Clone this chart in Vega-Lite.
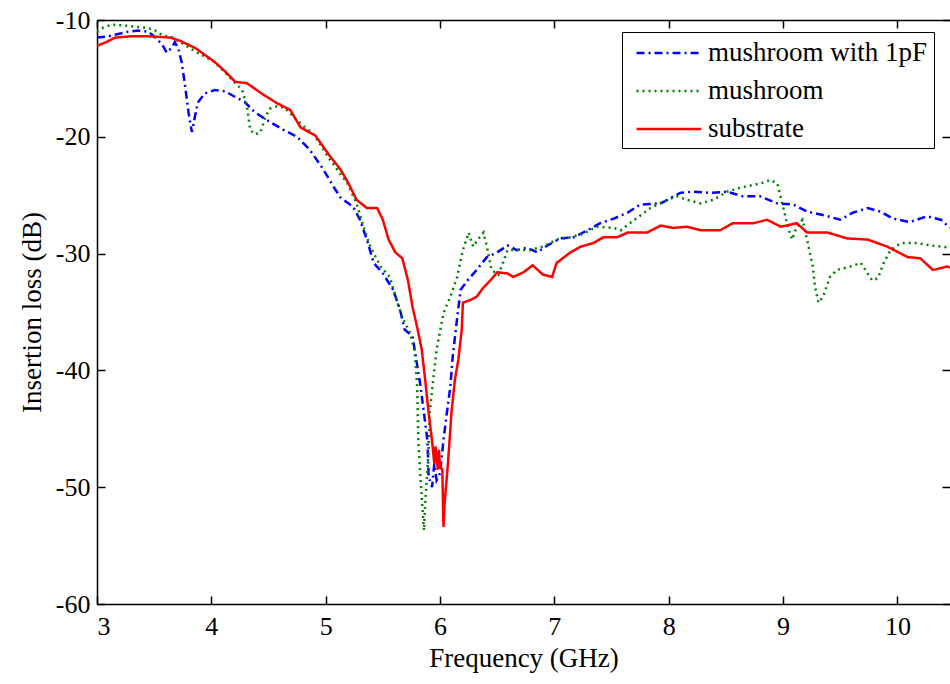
{
  "$schema": "https://vega.github.io/schema/vega-lite/v6.json",
  "autosize": "none",
  "width": 853,
  "height": 584,
  "padding": {"left": 97, "top": 20, "right": 0, "bottom": 80},
  "background": "white",
  "config": {
    "view": {"stroke": null},
    "font": "Liberation Serif",
    "axis": {
      "domainColor": "black", "domainWidth": 1.5, "tickColor": "black", "tickWidth": 1.5,
      "labelColor": "black", "labelFont": "Liberation Serif", "labelFontSize": 26,
      "titleFont": "Liberation Serif", "titleFontSize": 27, "titleFontWeight": "normal", "titleColor": "black",
      "grid": false, "tickSize": -8, "labelExpr": "'' + datum.value"
    }
  },
  "data": {"values": [
    {"s":"mushroom with 1pF","f":3.00,"v":-11.5},{"s":"mushroom with 1pF","f":3.10,"v":-11.4},{"s":"mushroom with 1pF","f":3.27,"v":-11.0},{"s":"mushroom with 1pF","f":3.36,"v":-10.9},{"s":"mushroom with 1pF","f":3.45,"v":-11.0},{"s":"mushroom with 1pF","f":3.51,"v":-11.5},{"s":"mushroom with 1pF","f":3.57,"v":-12.1},{"s":"mushroom with 1pF","f":3.61,"v":-12.8},{"s":"mushroom with 1pF","f":3.66,"v":-12.3},{"s":"mushroom with 1pF","f":3.68,"v":-11.9},{"s":"mushroom with 1pF","f":3.71,"v":-12.4},{"s":"mushroom with 1pF","f":3.74,"v":-13.6},{"s":"mushroom with 1pF","f":3.77,"v":-15.6},{"s":"mushroom with 1pF","f":3.80,"v":-17.9},{"s":"mushroom with 1pF","f":3.83,"v":-19.6},{"s":"mushroom with 1pF","f":3.86,"v":-18.1},{"s":"mushroom with 1pF","f":3.88,"v":-17.1},{"s":"mushroom with 1pF","f":3.94,"v":-16.3},{"s":"mushroom with 1pF","f":4.03,"v":-16.0},{"s":"mushroom with 1pF","f":4.12,"v":-16.1},{"s":"mushroom with 1pF","f":4.21,"v":-16.6},{"s":"mushroom with 1pF","f":4.29,"v":-17.0},{"s":"mushroom with 1pF","f":4.38,"v":-17.9},{"s":"mushroom with 1pF","f":4.49,"v":-18.6},{"s":"mushroom with 1pF","f":4.63,"v":-19.4},{"s":"mushroom with 1pF","f":4.75,"v":-20.0},{"s":"mushroom with 1pF","f":4.86,"v":-21.1},{"s":"mushroom with 1pF","f":4.98,"v":-22.8},{"s":"mushroom with 1pF","f":5.07,"v":-24.3},{"s":"mushroom with 1pF","f":5.13,"v":-25.2},{"s":"mushroom with 1pF","f":5.24,"v":-26.0},{"s":"mushroom with 1pF","f":5.30,"v":-27.1},{"s":"mushroom with 1pF","f":5.36,"v":-28.8},{"s":"mushroom with 1pF","f":5.42,"v":-30.8},{"s":"mushroom with 1pF","f":5.50,"v":-31.7},{"s":"mushroom with 1pF","f":5.59,"v":-33.1},{"s":"mushroom with 1pF","f":5.65,"v":-34.8},{"s":"mushroom with 1pF","f":5.69,"v":-36.5},{"s":"mushroom with 1pF","f":5.76,"v":-37.1},{"s":"mushroom with 1pF","f":5.83,"v":-41.4},{"s":"mushroom with 1pF","f":5.89,"v":-46.0},{"s":"mushroom with 1pF","f":5.90,"v":-49.1},{"s":"mushroom with 1pF","f":5.93,"v":-50.0},{"s":"mushroom with 1pF","f":5.95,"v":-48.0},{"s":"mushroom with 1pF","f":5.97,"v":-49.4},{"s":"mushroom with 1pF","f":6.00,"v":-48.8},{"s":"mushroom with 1pF","f":6.03,"v":-46.0},{"s":"mushroom with 1pF","f":6.06,"v":-43.6},{"s":"mushroom with 1pF","f":6.09,"v":-41.4},{"s":"mushroom with 1pF","f":6.11,"v":-38.9},{"s":"mushroom with 1pF","f":6.15,"v":-35.5},{"s":"mushroom with 1pF","f":6.18,"v":-33.1},{"s":"mushroom with 1pF","f":6.24,"v":-32.3},{"s":"mushroom with 1pF","f":6.32,"v":-31.4},{"s":"mushroom with 1pF","f":6.41,"v":-30.3},{"s":"mushroom with 1pF","f":6.50,"v":-29.9},{"s":"mushroom with 1pF","f":6.59,"v":-29.3},{"s":"mushroom with 1pF","f":6.67,"v":-29.7},{"s":"mushroom with 1pF","f":6.76,"v":-29.5},{"s":"mushroom with 1pF","f":6.85,"v":-29.9},{"s":"mushroom with 1pF","f":6.94,"v":-29.3},{"s":"mushroom with 1pF","f":7.05,"v":-28.7},{"s":"mushroom with 1pF","f":7.17,"v":-28.6},{"s":"mushroom with 1pF","f":7.29,"v":-28.0},{"s":"mushroom with 1pF","f":7.40,"v":-27.4},{"s":"mushroom with 1pF","f":7.52,"v":-27.0},{"s":"mushroom with 1pF","f":7.64,"v":-26.5},{"s":"mushroom with 1pF","f":7.75,"v":-25.8},{"s":"mushroom with 1pF","f":7.93,"v":-25.7},{"s":"mushroom with 1pF","f":8.10,"v":-24.8},{"s":"mushroom with 1pF","f":8.21,"v":-24.7},{"s":"mushroom with 1pF","f":8.36,"v":-24.8},{"s":"mushroom with 1pF","f":8.51,"v":-24.7},{"s":"mushroom with 1pF","f":8.65,"v":-25.1},{"s":"mushroom with 1pF","f":8.80,"v":-25.1},{"s":"mushroom with 1pF","f":8.95,"v":-25.7},{"s":"mushroom with 1pF","f":9.09,"v":-25.8},{"s":"mushroom with 1pF","f":9.21,"v":-26.4},{"s":"mushroom with 1pF","f":9.39,"v":-26.8},{"s":"mushroom with 1pF","f":9.50,"v":-27.1},{"s":"mushroom with 1pF","f":9.61,"v":-26.5},{"s":"mushroom with 1pF","f":9.74,"v":-26.1},{"s":"mushroom with 1pF","f":9.85,"v":-26.4},{"s":"mushroom with 1pF","f":9.96,"v":-27.0},{"s":"mushroom with 1pF","f":10.11,"v":-27.3},{"s":"mushroom with 1pF","f":10.26,"v":-26.8},{"s":"mushroom with 1pF","f":10.38,"v":-27.1},{"s":"mushroom with 1pF","f":10.46,"v":-27.8},
    {"s":"mushroom","f":3.00,"v":-11.0},{"s":"mushroom","f":3.04,"v":-10.7},{"s":"mushroom","f":3.13,"v":-10.4},{"s":"mushroom","f":3.27,"v":-10.5},{"s":"mushroom","f":3.36,"v":-10.6},{"s":"mushroom","f":3.45,"v":-10.7},{"s":"mushroom","f":3.51,"v":-10.9},{"s":"mushroom","f":3.57,"v":-11.3},{"s":"mushroom","f":3.66,"v":-11.5},{"s":"mushroom","f":3.73,"v":-11.9},{"s":"mushroom","f":3.86,"v":-12.7},{"s":"mushroom","f":4.03,"v":-13.6},{"s":"mushroom","f":4.19,"v":-15.2},{"s":"mushroom","f":4.27,"v":-16.0},{"s":"mushroom","f":4.31,"v":-17.3},{"s":"mushroom","f":4.34,"v":-19.4},{"s":"mushroom","f":4.38,"v":-19.8},{"s":"mushroom","f":4.43,"v":-19.6},{"s":"mushroom","f":4.47,"v":-18.4},{"s":"mushroom","f":4.51,"v":-17.6},{"s":"mushroom","f":4.57,"v":-17.4},{"s":"mushroom","f":4.64,"v":-17.5},{"s":"mushroom","f":4.73,"v":-18.4},{"s":"mushroom","f":4.82,"v":-19.2},{"s":"mushroom","f":4.89,"v":-19.7},{"s":"mushroom","f":5.04,"v":-22.0},{"s":"mushroom","f":5.19,"v":-24.0},{"s":"mushroom","f":5.27,"v":-25.7},{"s":"mushroom","f":5.33,"v":-27.7},{"s":"mushroom","f":5.39,"v":-29.4},{"s":"mushroom","f":5.48,"v":-31.1},{"s":"mushroom","f":5.56,"v":-32.0},{"s":"mushroom","f":5.62,"v":-34.0},{"s":"mushroom","f":5.68,"v":-35.7},{"s":"mushroom","f":5.74,"v":-36.8},{"s":"mushroom","f":5.78,"v":-38.5},{"s":"mushroom","f":5.80,"v":-41.4},{"s":"mushroom","f":5.81,"v":-46.0},{"s":"mushroom","f":5.83,"v":-49.4},{"s":"mushroom","f":5.86,"v":-53.7},{"s":"mushroom","f":5.87,"v":-51.4},{"s":"mushroom","f":5.89,"v":-48.5},{"s":"mushroom","f":5.90,"v":-46.6},{"s":"mushroom","f":5.91,"v":-43.6},{"s":"mushroom","f":5.94,"v":-40.8},{"s":"mushroom","f":5.97,"v":-38.2},{"s":"mushroom","f":6.03,"v":-35.1},{"s":"mushroom","f":6.09,"v":-33.7},{"s":"mushroom","f":6.15,"v":-32.0},{"s":"mushroom","f":6.20,"v":-29.7},{"s":"mushroom","f":6.25,"v":-28.2},{"s":"mushroom","f":6.29,"v":-29.4},{"s":"mushroom","f":6.33,"v":-28.8},{"s":"mushroom","f":6.38,"v":-28.2},{"s":"mushroom","f":6.41,"v":-29.4},{"s":"mushroom","f":6.45,"v":-31.4},{"s":"mushroom","f":6.51,"v":-31.8},{"s":"mushroom","f":6.55,"v":-30.8},{"s":"mushroom","f":6.59,"v":-29.7},{"s":"mushroom","f":6.67,"v":-29.7},{"s":"mushroom","f":6.79,"v":-29.7},{"s":"mushroom","f":6.90,"v":-29.4},{"s":"mushroom","f":7.02,"v":-28.8},{"s":"mushroom","f":7.14,"v":-28.6},{"s":"mushroom","f":7.25,"v":-28.3},{"s":"mushroom","f":7.37,"v":-27.7},{"s":"mushroom","f":7.52,"v":-27.8},{"s":"mushroom","f":7.58,"v":-28.0},{"s":"mushroom","f":7.66,"v":-27.4},{"s":"mushroom","f":7.84,"v":-26.1},{"s":"mushroom","f":7.99,"v":-25.4},{"s":"mushroom","f":8.07,"v":-25.1},{"s":"mushroom","f":8.16,"v":-25.4},{"s":"mushroom","f":8.28,"v":-25.7},{"s":"mushroom","f":8.39,"v":-25.4},{"s":"mushroom","f":8.51,"v":-24.7},{"s":"mushroom","f":8.65,"v":-24.3},{"s":"mushroom","f":8.80,"v":-24.0},{"s":"mushroom","f":8.89,"v":-23.7},{"s":"mushroom","f":8.95,"v":-24.0},{"s":"mushroom","f":9.00,"v":-26.0},{"s":"mushroom","f":9.05,"v":-28.0},{"s":"mushroom","f":9.08,"v":-28.8},{"s":"mushroom","f":9.12,"v":-27.7},{"s":"mushroom","f":9.17,"v":-27.1},{"s":"mushroom","f":9.21,"v":-28.8},{"s":"mushroom","f":9.26,"v":-31.1},{"s":"mushroom","f":9.28,"v":-32.9},{"s":"mushroom","f":9.31,"v":-34.2},{"s":"mushroom","f":9.35,"v":-33.7},{"s":"mushroom","f":9.41,"v":-32.0},{"s":"mushroom","f":9.47,"v":-31.4},{"s":"mushroom","f":9.59,"v":-31.1},{"s":"mushroom","f":9.68,"v":-30.8},{"s":"mushroom","f":9.74,"v":-31.7},{"s":"mushroom","f":9.78,"v":-32.3},{"s":"mushroom","f":9.83,"v":-32.1},{"s":"mushroom","f":9.88,"v":-30.8},{"s":"mushroom","f":9.94,"v":-29.7},{"s":"mushroom","f":10.03,"v":-29.1},{"s":"mushroom","f":10.17,"v":-29.1},{"s":"mushroom","f":10.29,"v":-29.3},{"s":"mushroom","f":10.38,"v":-29.4},{"s":"mushroom","f":10.46,"v":-29.5},
    {"s":"substrate","f":3.00,"v":-12.2},{"s":"substrate","f":3.08,"v":-11.9},{"s":"substrate","f":3.16,"v":-11.5},{"s":"substrate","f":3.30,"v":-11.4},{"s":"substrate","f":3.45,"v":-11.4},{"s":"substrate","f":3.64,"v":-11.5},{"s":"substrate","f":3.73,"v":-11.8},{"s":"substrate","f":3.86,"v":-12.4},{"s":"substrate","f":4.03,"v":-13.6},{"s":"substrate","f":4.12,"v":-14.4},{"s":"substrate","f":4.21,"v":-15.3},{"s":"substrate","f":4.31,"v":-15.4},{"s":"substrate","f":4.44,"v":-16.3},{"s":"substrate","f":4.57,"v":-17.1},{"s":"substrate","f":4.69,"v":-17.7},{"s":"substrate","f":4.78,"v":-19.2},{"s":"substrate","f":4.91,"v":-19.9},{"s":"substrate","f":5.04,"v":-21.7},{"s":"substrate","f":5.13,"v":-22.8},{"s":"substrate","f":5.20,"v":-24.0},{"s":"substrate","f":5.27,"v":-25.4},{"s":"substrate","f":5.36,"v":-26.1},{"s":"substrate","f":5.45,"v":-26.1},{"s":"substrate","f":5.50,"v":-27.1},{"s":"substrate","f":5.55,"v":-28.8},{"s":"substrate","f":5.61,"v":-29.9},{"s":"substrate","f":5.67,"v":-30.4},{"s":"substrate","f":5.72,"v":-32.3},{"s":"substrate","f":5.76,"v":-34.6},{"s":"substrate","f":5.80,"v":-36.3},{"s":"substrate","f":5.84,"v":-38.2},{"s":"substrate","f":5.87,"v":-40.8},{"s":"substrate","f":5.90,"v":-43.6},{"s":"substrate","f":5.93,"v":-46.0},{"s":"substrate","f":5.95,"v":-48.0},{"s":"substrate","f":5.96,"v":-46.5},{"s":"substrate","f":5.98,"v":-48.5},{"s":"substrate","f":5.99,"v":-46.8},{"s":"substrate","f":6.00,"v":-48.2},{"s":"substrate","f":6.02,"v":-48.5},{"s":"substrate","f":6.03,"v":-53.4},{"s":"substrate","f":6.04,"v":-51.4},{"s":"substrate","f":6.07,"v":-47.9},{"s":"substrate","f":6.10,"v":-43.6},{"s":"substrate","f":6.13,"v":-40.8},{"s":"substrate","f":6.16,"v":-39.1},{"s":"substrate","f":6.19,"v":-36.5},{"s":"substrate","f":6.20,"v":-34.2},{"s":"substrate","f":6.26,"v":-34.0},{"s":"substrate","f":6.32,"v":-33.7},{"s":"substrate","f":6.38,"v":-32.9},{"s":"substrate","f":6.44,"v":-32.3},{"s":"substrate","f":6.50,"v":-31.6},{"s":"substrate","f":6.59,"v":-31.7},{"s":"substrate","f":6.64,"v":-32.0},{"s":"substrate","f":6.73,"v":-31.6},{"s":"substrate","f":6.81,"v":-31.0},{"s":"substrate","f":6.90,"v":-31.8},{"s":"substrate","f":6.98,"v":-32.0},{"s":"substrate","f":7.02,"v":-30.8},{"s":"substrate","f":7.14,"v":-29.9},{"s":"substrate","f":7.23,"v":-29.4},{"s":"substrate","f":7.34,"v":-29.1},{"s":"substrate","f":7.43,"v":-28.6},{"s":"substrate","f":7.55,"v":-28.6},{"s":"substrate","f":7.64,"v":-28.2},{"s":"substrate","f":7.81,"v":-28.2},{"s":"substrate","f":7.93,"v":-27.6},{"s":"substrate","f":8.04,"v":-27.8},{"s":"substrate","f":8.16,"v":-27.7},{"s":"substrate","f":8.28,"v":-28.0},{"s":"substrate","f":8.45,"v":-28.0},{"s":"substrate","f":8.56,"v":-27.4},{"s":"substrate","f":8.74,"v":-27.4},{"s":"substrate","f":8.86,"v":-27.1},{"s":"substrate","f":8.98,"v":-27.7},{"s":"substrate","f":9.12,"v":-27.4},{"s":"substrate","f":9.21,"v":-28.2},{"s":"substrate","f":9.39,"v":-28.2},{"s":"substrate","f":9.56,"v":-28.7},{"s":"substrate","f":9.74,"v":-28.8},{"s":"substrate","f":9.91,"v":-29.4},{"s":"substrate","f":10.09,"v":-30.3},{"s":"substrate","f":10.20,"v":-30.4},{"s":"substrate","f":10.31,"v":-31.4},{"s":"substrate","f":10.44,"v":-31.1},{"s":"substrate","f":10.46,"v":-31.2}
  ]},
  "layer": [
    {
      "mark": {"type": "line", "strokeWidth": 2.5, "clip": true},
      "encoding": {
        "x": {"field": "f", "type": "quantitative", "scale": {"domain": [3, 10.46], "nice": false, "zero": false},
              "axis": {"orient": "bottom", "values": [3,4,5,6,7,8,9,10], "title": "Frequency (GHz)", "labelPadding": 17, "titlePadding": 6}},
        "y": {"field": "v", "type": "quantitative", "scale": {"domain": [-60, -10], "nice": false, "zero": false},
              "axis": {"orient": "left", "values": [-60,-50,-40,-30,-20,-10], "title": "Insertion loss (dB)", "labelPadding": 15, "titlePadding": 9}},
        "color": {"field": "s", "type": "nominal",
                  "scale": {"domain": ["mushroom with 1pF", "mushroom", "substrate"], "range": ["#0000ff", "#008000", "#ff0000"]},
                  "legend": {"title": null, "orient": "none", "legendX": 525, "legendY": 12,
                             "symbolType": "M-0.48,0H4.33", "symbolSize": 729, "symbolStrokeWidth": 2.5,
                             "labelFont": "Liberation Serif", "labelFontSize": 27, "labelColor": "black", "labelOffset": 50, "labelLimit": 400,
                             "strokeColor": "black", "fillColor": "white", "padding": 6, "rowPadding": 10}},
        "strokeDash": {"field": "s", "type": "nominal",
                       "scale": {"domain": ["mushroom with 1pF", "mushroom", "substrate"], "range": [[8,4,2,4],[2,4],[1,0]]},
                       "legend": null}
      }
    },
    {
      "mark": {"type": "line", "opacity": 0},
      "encoding": {
        "x": {"field": "f", "type": "quantitative", "axis": {"orient": "top", "values": [3,4,5,6,7,8,9,10], "labels": false, "title": null}},
        "y": {"field": "v", "type": "quantitative", "axis": {"orient": "right", "values": [-60,-50,-40,-30,-20,-10], "labels": false, "title": null, "domain": false}},
        "detail": {"field": "s"}
      }
    }
  ],
  "resolve": {"axis": {"x": "independent", "y": "independent"}}
}
